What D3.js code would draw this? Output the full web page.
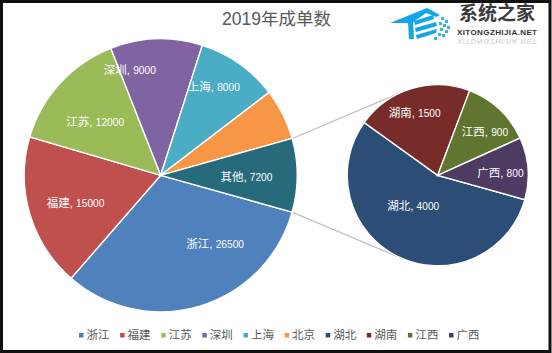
<!DOCTYPE html>
<html>
<head>
<meta charset="utf-8">
<script src="https://cdn.jsdelivr.net/npm/d3@7"></script>
<style>
  html, body { margin: 0; padding: 0; background: #fff; }
  svg { display: block; }
  text { font-family: "Liberation Sans", "Noto Sans CJK SC", sans-serif; }
</style>
</head>
<body>
<div id="chart"></div>
<script>
// chart values
var mainNames = ["浙江", "福建", "江苏", "深圳", "上海", "北京"];
var mainValues = [26500, 15000, 12000, 9000, 8000, 5000];
var subNames = ["湖北", "湖南", "江西", "广西"];
var subValues = [4000, 1500, 900, 800];
var otherName = "其他";
var hiddenLabels = ["北京"];
var title = "2019年成单数";

var colors = {
    "浙江": "#4f81bd", "福建": "#c0504d", "江苏": "#9bbb59", "深圳": "#8064a2",
    "上海": "#4bacc6", "北京": "#f79646", "其他": "#276a7c",
    "湖北": "#2c4d75", "湖南": "#772c2a", "江西": "#5f7530", "广西": "#4d3b62"
};

// hand placed labels, offset from the slice centroid
var labelNudge = {
    "浙江": [29, -16], "福建": [0, 3], "江苏": [0, 7], "深圳": [-28, -17], "上海": [2, -16], "其他": [-3, 2],
    "湖北": [1, -22], "湖南": [-6, -6], "江西": [7, 0], "广西": [4, 2]
};

var width = 552, height = 353;
var mainC = {x: 160.7, y: 175.3, r: 136.5};
var subC = {x: 437.7, y: 175.3, r: 90.5};

var svg = d3.select("#chart").append("svg")
    .attr("width", width)
    .attr("height", height);

svg.append("rect")
    .attr("x", 1.5).attr("y", 1.5)
    .attr("width", width - 3.5).attr("height", height - 3)
    .attr("fill", "#fff")
    .attr("stroke", "#111")
    .attr("stroke-width", 3);

// the "other" slice is centred on the right hand side
var otherValue = d3.sum(subValues);
var total = d3.sum(mainValues) + otherValue;
var startAngle = Math.PI / 2 + Math.PI * otherValue / total;

var mainData = mainNames.map(function(d, i) { return {name: d, value: mainValues[i]}; });
mainData.push({name: otherName, value: otherValue});
var subData = subNames.map(function(d, i) { return {name: d, value: subValues[i]}; });

var pie = d3.pie()
    .sort(null)
    .value(function(d) { return d.value; })
    .startAngle(startAngle)
    .endAngle(startAngle + 2 * Math.PI);

function pointOn(c, a) {
    return [c.x + c.r * Math.sin(a), c.y - c.r * Math.cos(a)];
}

// line from a point on the big pie, tangent to the small one
function tangent(p, side) {
    var dx = subC.x - p[0], dy = subC.y - p[1];
    var dist = Math.sqrt(dx * dx + dy * dy);
    var a = Math.atan2(dy, dx) + side * Math.asin(subC.r / dist);
    var len = Math.sqrt(dist * dist - subC.r * subC.r);
    return [p[0] + len * Math.cos(a), p[1] + len * Math.sin(a)];
}

var lineTop = pointOn(mainC, startAngle - 2 * Math.PI * otherValue / total);
var lineBottom = pointOn(mainC, startAngle);

svg.append("g").selectAll("line")
    .data([[lineTop, tangent(lineTop, -1)], [lineBottom, tangent(lineBottom, 1)]])
    .enter().append("line")
    .attr("x1", function(d) { return d[0][0]; })
    .attr("y1", function(d) { return d[0][1]; })
    .attr("x2", function(d) { return d[1][0]; })
    .attr("y2", function(d) { return d[1][1]; })
    .attr("stroke", "#bfbfbf")
    .attr("stroke-width", 1.2);

function drawPie(data, c) {
    var arc = d3.arc().innerRadius(0).outerRadius(c.r);
    var labelArc = d3.arc().innerRadius(c.r * 0.65).outerRadius(c.r * 0.65);
    var g = svg.append("g").attr("transform", "translate(" + c.x + "," + c.y + ")");

    g.selectAll("path")
        .data(pie(data))
        .enter().append("path")
        .attr("d", arc)
        .attr("fill", function(d) { return colors[d.data.name]; })
        .attr("stroke", "#fff")
        .attr("stroke-width", 1.4);

    var label = g.selectAll("text")
        .data(pie(data).filter(function(d) { return hiddenLabels.indexOf(d.data.name) < 0; }))
        .enter().append("text")
        .attr("transform", function(d) {
            var p = labelArc.centroid(d), n = labelNudge[d.data.name];
            return "translate(" + (p[0] + n[0]) + "," + (p[1] + n[1]) + ")";
        })
        .attr("dy", "0.35em")
        .attr("text-anchor", "middle")
        .attr("fill", "#fff")
        .attr("font-size", 11.5);

    label.append("tspan")
        .text(function(d) { return d.data.name + ", "; });
    // digits are a bit narrower than the chinese next to them
    label.append("tspan")
        .attr("font-size", 10.2)
        .text(function(d) { return d.data.value; });
}

drawPie(mainData, mainC);
drawPie(subData, subC);

svg.append("text")
    .attr("x", 276.5)
    .attr("y", 25)
    .attr("text-anchor", "middle")
    .attr("fill", "#595959")
    .attr("font-size", 17.5)
    .text(title);

// legend
var legendNames = mainNames.concat(subNames);
var legendX = d3.scalePoint()
    .domain(legendNames)
    .range([81, 451]);

var legend = svg.append("g").selectAll("g")
    .data(legendNames)
    .enter().append("g")
    .attr("transform", function(d) { return "translate(" + legendX(d) + ",335)"; });

legend.append("rect")
    .attr("x", -2).attr("y", -2)
    .attr("width", 4.5).attr("height", 4.5)
    .attr("fill", function(d) { return colors[d]; });

legend.append("text")
    .attr("x", 5.5)
    .attr("dy", "0.35em")
    .attr("fill", "#595959")
    .attr("font-size", 11.5)
    .text(function(d) { return d; });

// site logo, top right
var logo = svg.append("g");
var logoBlue = "#14a5e6";
var logoShapes = [
    [[390, 23], [427, 8], [440, 15], [436, 17], [426, 13], [412, 23]],
    [[408, 22], [413, 21], [414, 39], [409, 39]],
    [[414, 21], [433, 15], [434, 19], [415, 25]],
    [[415, 28], [436, 22], [437, 26], [416, 32]],
    [[416, 35], [437, 29], [436, 33], [417, 39]]
];
logo.selectAll("polygon")
    .data(logoShapes)
    .enter().append("polygon")
    .attr("points", function(d) { return d.join(" "); })
    .attr("fill", logoBlue);

var logoDots = [[441, 17], [445, 20], [439, 22], [443, 24], [447, 26], [440, 28], [445, 30], [438, 33], [442, 34], [434, 37]];
logo.selectAll("rect")
    .data(logoDots)
    .enter().append("rect")
    .attr("x", function(d) { return d[0]; })
    .attr("y", function(d) { return d[1]; })
    .attr("width", 3).attr("height", 3)
    .attr("fill", logoBlue)
    .attr("opacity", 0.85);

logo.append("text")
    .attr("x", 459).attr("y", 20)
    .attr("fill", "#3a3a3a")
    .attr("font-size", 19)
    .attr("font-weight", "bold")
    .text("系统之家");

logo.append("text")
    .attr("x", 457).attr("y", 35)
    .attr("fill", "#333")
    .attr("font-size", 8)
    .attr("font-weight", "bold")
    .attr("textLength", 80)
    .text("XITONGZHIJIA.NET");

logo.append("text")
    .attr("transform", "translate(457,39) scale(1,-1)")
    .attr("fill", "#333")
    .attr("opacity", 0.18)
    .attr("font-size", 8)
    .attr("font-weight", "bold")
    .attr("textLength", 80)
    .text("XITONGZHIJIA.NET");
</script>
</body>
</html>
